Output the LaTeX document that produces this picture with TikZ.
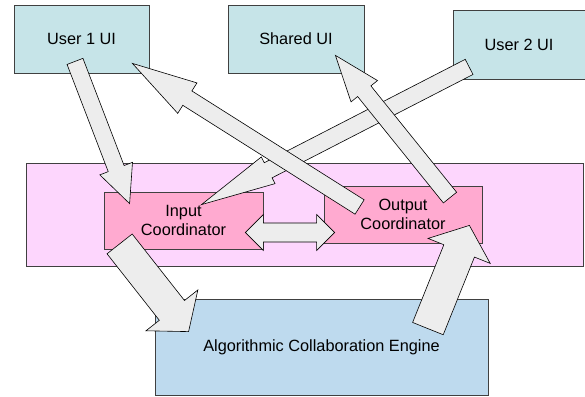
\documentclass[tikz,border=0pt]{standalone}
\usepackage{fontspec}
\setmainfont{Liberation Sans}
\usetikzlibrary{calc}
\definecolor{uiTeal}{RGB}{198,228,232}
\definecolor{layerPink}{RGB}{253,214,253}
\definecolor{coordPink}{RGB}{255,170,208}
\definecolor{engineBlue}{RGB}{190,218,238}
\definecolor{arrowGray}{RGB}{237,237,237}

\begin{document}
\begin{tikzpicture}[
    x=1pt, y=-1pt,
    box/.style={rectangle, draw=black!75, line width=0.8pt, inner sep=0pt, align=center, font=\fontsize{16.3pt}{19.5pt}\selectfont},
    ui/.style={box, fill=uiTeal, minimum height=68pt},
    coord/.style={box, fill=coordPink, minimum width=158pt, minimum height=57pt},
    fat/.style n args={3}{draw, line width=0.6pt, fill=arrowGray, to path={
        -- ($(\tikztostart)!#1!90:(\tikztotarget)$)
        -- ($(\tikztotarget)!#3!(\tikztostart)!#1!90:(\tikztotarget)$)
        -- ($(\tikztotarget)!#3!(\tikztostart)!#2!90:(\tikztotarget)$)
        -- (\tikztotarget)
        -- ($(\tikztotarget)!#3!(\tikztostart)!#2!-90:(\tikztotarget)$)
        -- ($(\tikztotarget)!#3!(\tikztostart)!#1!-90:(\tikztotarget)$)
        -- ($(\tikztostart)!#1!-90:(\tikztotarget)$)
        -- cycle}},
    fatboth/.style n args={3}{draw, line width=0.6pt, fill=arrowGray, to path={
        -- ($(\tikztostart)!#3!(\tikztotarget)!#2!90:(\tikztotarget)$)
        -- ($(\tikztostart)!#3!(\tikztotarget)!#1!90:(\tikztotarget)$)
        -- ($(\tikztotarget)!#3!(\tikztostart)!#1!-90:(\tikztostart)$)
        -- ($(\tikztotarget)!#3!(\tikztostart)!#2!-90:(\tikztostart)$)
        -- (\tikztotarget)
        -- ($(\tikztotarget)!#3!(\tikztostart)!#2!90:(\tikztostart)$)
        -- ($(\tikztotarget)!#3!(\tikztostart)!#1!90:(\tikztostart)$)
        -- ($(\tikztostart)!#3!(\tikztotarget)!#1!-90:(\tikztotarget)$)
        -- ($(\tikztostart)!#3!(\tikztotarget)!#2!-90:(\tikztotarget)$)
        -- cycle}}
]
\useasboundingbox (0,0) rectangle (585,396);

\node[ui, minimum width=135pt] (user1) at (81.5,39) {User 1 UI};
\node[ui, minimum width=136pt] (shared) at (296,39) {Shared UI};
\node[ui, minimum width=132pt, minimum height=69pt] (user2) at (519,44.5) {User 2 UI};

\node[box, fill=layerPink, minimum width=557pt, minimum height=103pt] (layer) at (304.5,214.5) {};
\node[coord, minimum width=159pt] (input) at (183.5,220.5) {Input\\Coordinator};
\node[coord] (output) at (403,214.5) {Output\\Coordinator};

\node[box, fill=engineBlue, minimum width=333pt, minimum height=96pt] (engine) at (321.5,347) {Algorithmic Collaboration Engine};

\coordinate (u1-out) at ($(user1.south)+(-6.5,-12)$);
\coordinate (in-top) at ($(input.north west)+(26,12)$);
\coordinate (in-out) at ($(input.south west)+(16,-5.5)$);
\coordinate (eng-in) at ($(engine.north west)+(34,33)$);
\coordinate (eng-out) at ($(engine.north east)+(-60.5,30)$);
\coordinate (out-in) at ($(output.south east)+(-13,-18)$);
\coordinate (in-side) at ($(input.east)+(-18,12)$);
\coordinate (out-side) at ($(output.west)+(11,18)$);
\coordinate (u2-out) at ($(user2.south west)+(16.5,-12.5)$);
\coordinate (in-from-u2) at ($(input.north)+(18,13)$);
\coordinate (out-to-u1) at ($(output.west)+(36,-7.5)$);
\coordinate (u1-in) at ($(user1.south east)+(-17,-10)$);
\coordinate (out-to-sh) at ($(output.north)+(47,12)$);
\coordinate (sh-in) at ($(shared.south east)+(-29,-18)$);

\draw[fat={8.5pt}{17.5pt}{37.5pt}] (u1-out) to (in-top);
\draw[fat={16pt}{33pt}{27pt}] (in-out) to (eng-in);
\draw[fat={16.5pt}{33.5pt}{27.5pt}] (eng-out) to (out-in);
\draw[fatboth={9.5pt}{18pt}{18pt}] (in-side) to (out-side);
\draw[fat={8.5pt}{15pt}{75pt}] (u2-out) to (in-from-u2);
\draw[fat={8.5pt}{18pt}{65pt}] (out-to-u1) to (u1-in);
\draw[fat={8.5pt}{17pt}{46pt}] (out-to-sh) to (sh-in);

\end{tikzpicture}
\end{document}
